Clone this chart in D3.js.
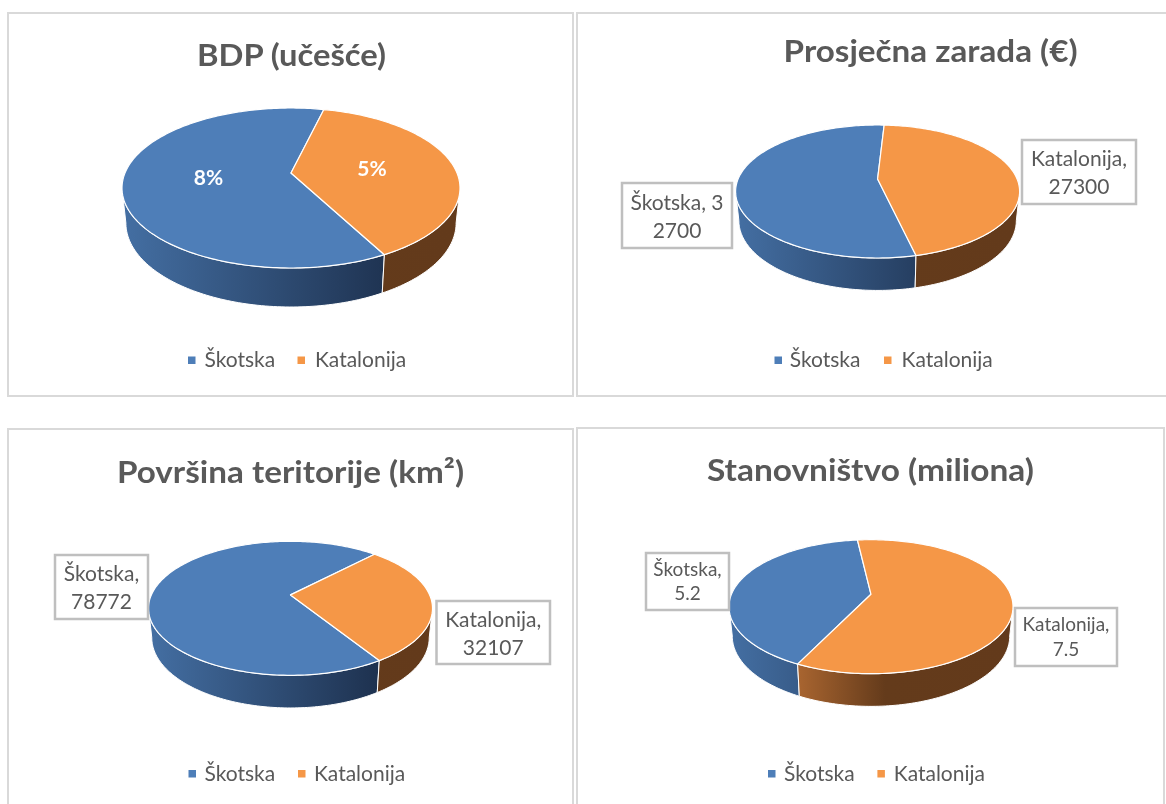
<!DOCTYPE html>
<html>
<head>
<meta charset="utf-8">
<script src="https://cdn.jsdelivr.net/npm/d3@7"></script>
<style>
  html, body { margin: 0; padding: 0; background: #fff; }
  svg { display: block; filter: blur(0.4px); }
  text { font-family: Lato, "Noto Sans", sans-serif; fill: #595959; }
</style>
</head>
<body>
<div id="chart"></div>
<script>
// Data
const categories = ["Škotska", "Katalonija"];
const titles = ["BDP (učešće)", "Prosječna zarada (€)", "Površina teritorije (km²)", "Stanovništvo (miliona)"];
const gdpShare = [8, 5];
const averageWage = [32700, 27300];
const territory = [78772, 32107];
const population = [5.2, 7.5];
const seriesValues = [gdpShare, averageWage, territory, population];

const colors = ["#4e7eb8", "#f59747"];

const layouts = [
    {
        cx: 291, cy: 188, rx: 169, ry: 80, tilt: -0.1875, start: 152,
        titleX: 291.5, titleY: 66, titleW: 189,
        legendY: 360, legendX: [188, 204.5, 297.5, 315],
        inside: [[208.5, 178], [372, 169]]
    },
    {
        cx: 877.6, cy: 191.5, rx: 142, ry: 66.5, tilt: -0.188, start: 167,
        titleX: 930.6, titleY: 62, titleW: 294,
        legendY: 360, legendX: [774.5, 789.7, 884, 901.6],
        boxes: [[622, 183, 110, 65, 10], [1022, 140, 114, 64, 11]], labelSize: 21, lineH: 28
    },
    {
        cx: 290.5, cy: 608.3, rx: 142, ry: 67, tilt: -0.2, start: 148,
        titleX: 290.5, titleY: 483, titleW: 347,
        legendY: 773.5, legendX: [188.5, 204.5, 298, 314],
        boxes: [[55, 555, 93, 64, 8], [436.5, 601, 113.5, 63, 11]], labelSize: 21, lineH: 28
    },
    {
        cx: 871, cy: 606.7, rx: 142, ry: 67, tilt: -0.185, start: 206,
        titleX: 870.4, titleY: 481, titleW: 327,
        legendY: 773.5, legendX: [768, 784, 877.4, 893.8],
        boxes: [[646, 553, 83, 57, 8], [1015, 608, 102, 58, 11]], labelSize: 19, lineH: 24.5
    }
];

const width = 1166;
const height = 804;

const svg = d3.select("#chart")
    .append("svg")
    .attr("width", width)
    .attr("height", height);

const defs = svg.append("defs");

// Panel frames; the lower and right ones run off the screenshot
const frames = [
    "M8,396 V13 H573 V396 Z",
    "M1166,13 H577 V396 H1166",
    "M8,804 V429 H573 V804",
    "M577,804 V428 H1164 V804"
];
svg.selectAll("path.frame")
    .data(frames)
    .enter()
    .append("path")
    .attr("class", "frame")
    .attr("d", d => d)
    .attr("fill", "none")
    .attr("stroke", "#d9d9d9")
    .attr("stroke-width", 2);

const TWO_PI = Math.PI * 2;

function drawPanel(values, layout, index) {
    const g = svg.append("g");

    // Scales for the top face and the smaller, lower outline of the wall
    const xTop = d3.scaleLinear().domain([-1, 1]).range([layout.cx - layout.rx, layout.cx + layout.rx]);
    const yTop = d3.scaleLinear().domain([-1, 1]).range([layout.cy - layout.ry, layout.cy + layout.ry]);
    const rxLow = layout.rx * 0.977;
    const ryLow = layout.ry * 1.05;
    const cyLow = layout.cy + layout.ry * 0.4375;
    const xLow = d3.scaleLinear().domain([-1, 1]).range([layout.cx - rxLow, layout.cx + rxLow]);
    const yLow = d3.scaleLinear().domain([-1, 1]).range([cyLow - ryLow, cyLow + ryLow]);

    // Perspective: a point on the flat disc (clockwise from 12 o'clock) to the ellipse
    const k = layout.tilt;
    function project(angle, radius, xs, ys) {
        const u = Math.sin(angle) * radius;
        const v = -Math.cos(angle) * radius;
        const w = 1 + k * v;
        return [xs(u * Math.sqrt(1 - k * k) / w), ys((v + k) / w)];
    }

    const startAngle = layout.start * Math.PI / 180;
    const pie = d3.pie().sort(null).startAngle(startAngle).endAngle(startAngle + TWO_PI);
    const arcs = pie(values);
    const line = d3.line();

    function sweep(a0, a1) {
        const n = Math.max(2, Math.ceil((a1 - a0) / 0.02));
        return d3.range(n + 1).map(i => a0 + (a1 - a0) * i / n);
    }

    // Shaded side wall, one gradient per colour across the whole pie
    const gradients = [
        [[0, "#446fa3"], [0.8, "#1e3250"], [1, "#1e3250"]],
        [[0, "#b56d36"], [0.24, "#a96530"], [0.55, "#643b1b"], [1, "#633a1b"]]
    ];
    gradients.forEach((stops, i) => {
        const grad = defs.append("linearGradient")
            .attr("id", `wall-${index}-${i}`)
            .attr("gradientUnits", "userSpaceOnUse")
            .attr("x1", xTop(-1)).attr("x2", xTop(1))
            .attr("y1", 0).attr("y2", 0);
        stops.forEach(s => grad.append("stop").attr("offset", s[0]).attr("stop-color", s[1]));
    });

    const visibleFrom = Math.acos(k);
    const visibleTo = TWO_PI - visibleFrom;
    arcs.forEach((d, i) => {
        [-TWO_PI, 0, TWO_PI].forEach(shift => {
            const lo = Math.max(d.startAngle + shift, visibleFrom);
            const hi = Math.min(d.endAngle + shift, visibleTo);
            if (lo >= hi) return;
            const angles = sweep(lo, hi);
            const pts = angles.map(a => project(a, 1, xTop, yTop))
                .concat(angles.slice().reverse().map(a => project(a, 1, xLow, yLow)));
            g.append("path")
                .attr("d", line(pts) + "Z")
                .attr("fill", `url(#wall-${index}-${i})`)
                .attr("stroke", "#fff")
                .attr("stroke-width", 1);
        });
    });

    // Top face
    const apex = project(0, 0, xTop, yTop);
    arcs.forEach((d, i) => {
        const pts = [apex].concat(sweep(d.startAngle, d.endAngle).map(a => project(a, 1, xTop, yTop)));
        g.append("path")
            .attr("d", line(pts) + "Z")
            .attr("fill", colors[i])
            .attr("stroke", "#fff")
            .attr("stroke-width", 1.2)
            .attr("stroke-linejoin", "round");
    });

    // Title, stretched to the width it has in the reference
    g.append("text")
        .attr("x", layout.titleX)
        .attr("y", layout.titleY)
        .attr("text-anchor", "middle")
        .attr("font-size", 31)
        .attr("font-weight", 700)
        .attr("textLength", layout.titleW)
        .attr("lengthAdjust", "spacingAndGlyphs")
        .text(titles[index]);

    // Legend
    categories.forEach((name, i) => {
        g.append("rect")
            .attr("x", layout.legendX[i * 2])
            .attr("y", layout.legendY - 3.5)
            .attr("width", 7.5)
            .attr("height", 7.5)
            .attr("fill", colors[i]);
        g.append("text")
            .attr("x", layout.legendX[i * 2 + 1])
            .attr("y", layout.legendY + 7)
            .attr("font-size", 21)
            .text(name);
    });

    // Percent labels sitting on the slices
    if (layout.inside) {
        values.forEach((v, i) => {
            g.append("text")
                .attr("x", layout.inside[i][0])
                .attr("y", layout.inside[i][1] + 7)
                .attr("text-anchor", "middle")
                .attr("font-size", 21)
                .attr("font-weight", 700)
                .style("fill", "#fff")
                .text(v + "%");
        });
    }

    // Boxed labels, wrapped where the reference wraps them
    if (layout.boxes) {
        values.forEach((v, i) => {
            const [bx, by, bw, bh, breakAt] = layout.boxes[i];
            const label = `${categories[i]}, ${v}`;
            const lines = [label.slice(0, breakAt).trim(), label.slice(breakAt).trim()];
            g.append("rect")
                .attr("x", bx).attr("y", by)
                .attr("width", bw).attr("height", bh)
                .attr("fill", "#fff")
                .attr("stroke", "#bfbfbf")
                .attr("stroke-width", 2.5);
            lines.forEach((t, j) => {
                g.append("text")
                    .attr("x", bx + bw / 2)
                    .attr("y", by + bh / 2 - 6 + j * layout.lineH)
                    .attr("text-anchor", "middle")
                    .attr("font-size", layout.labelSize)
                    .text(t);
            });
        });
    }
}

seriesValues.forEach((values, i) => drawPanel(values, layouts[i], i));
</script>
</body>
</html>
